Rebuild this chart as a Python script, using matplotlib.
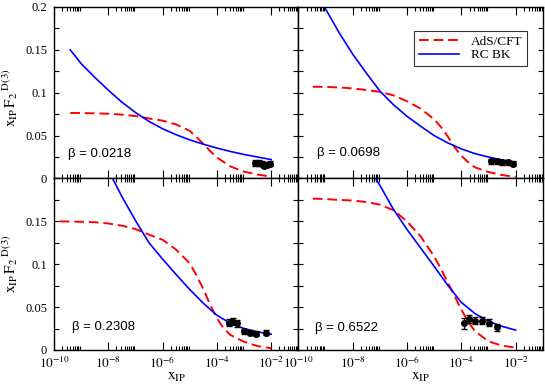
import numpy as np
import matplotlib
matplotlib.use("Agg")
import matplotlib.pyplot as plt
from matplotlib.ticker import FixedLocator, FixedFormatter

plt.rcParams['font.family'] = ['Liberation Serif', 'DejaVu Serif']
plt.rcParams['mathtext.fontset'] = 'stix'

betas = ["0.0218", "0.0698", "0.2308", "0.6522"]

# log10(x_IP) and x_IP F2^D(3)
ads_logx = [
    [-9.4, -9.0, -8.5, -8.0, -7.5, -7.0, -6.5, -6.0, -5.5, -5.0, -4.75, -4.5, -4.25, -4.0, -3.5, -3.0, -2.5, -2.0],
    [-9.47, -9.0, -8.5, -8.0, -7.5, -7.0, -6.5, -6.0, -5.5, -5.0, -4.75, -4.5, -4.25, -4.0, -3.75, -3.5, -3.0, -2.5, -2.0],
    [-9.79, -9.0, -8.5, -8.0, -7.5, -7.0, -6.5, -6.0, -5.5, -5.0, -4.75, -4.5, -4.25, -4.0, -3.75, -3.5, -3.0, -2.5, -2.0],
    [-9.47, -9.0, -8.5, -8.0, -7.5, -7.0, -6.5, -6.0, -5.5, -5.0, -4.75, -4.5, -4.25, -4.0, -3.75, -3.5, -3.0, -2.5, -2.0],
]
ads_val = [
    [0.0764, 0.0763, 0.0760, 0.0755, 0.0745, 0.0728, 0.0700, 0.0675, 0.063, 0.0555, 0.048, 0.0405, 0.032, 0.0245, 0.014, 0.008, 0.0045, 0.0023],
    [0.107, 0.1068, 0.1062, 0.105, 0.1032, 0.101, 0.097, 0.090, 0.0815, 0.069, 0.060, 0.049, 0.0365, 0.0265, 0.019, 0.013, 0.0075, 0.004, 0.0018],
    [0.150, 0.1495, 0.149, 0.1475, 0.145, 0.141, 0.1345, 0.1285, 0.117, 0.101, 0.087, 0.071, 0.053, 0.037, 0.025, 0.0175, 0.0095, 0.0045, 0.002],
    [0.1765, 0.176, 0.175, 0.1743, 0.1725, 0.1695, 0.163, 0.150, 0.1325, 0.109, 0.0945, 0.079, 0.063, 0.047, 0.033, 0.022, 0.010, 0.005, 0.0027],
]

bk_logx = [
    [-9.4, -9.0, -8.5, -8.0, -7.5, -7.0, -6.5, -6.0, -5.5, -5.0, -4.5, -4.0, -3.5, -3.0, -2.5, -2.0],
    [-9.04, -8.5, -8.0, -7.5, -7.0, -6.5, -6.0, -5.5, -5.0, -4.5, -4.0, -3.5, -3.0, -2.5, -2.0],
    [-7.84, -7.5, -7.0, -6.5, -6.0, -5.5, -5.0, -4.5, -4.0, -3.5, -3.0, -2.5, -2.0],
    [-7.16, -7.0, -6.5, -6.0, -5.5, -5.0, -4.5, -4.0, -3.5, -3.0, -2.5, -2.0],
]
bk_val = [
    [0.150, 0.134, 0.118, 0.103, 0.089, 0.077, 0.0665, 0.058, 0.051, 0.045, 0.040, 0.0355, 0.0315, 0.028, 0.025, 0.022],
    [0.200, 0.170, 0.145, 0.123, 0.102, 0.086, 0.0725, 0.061, 0.050, 0.0415, 0.0345, 0.029, 0.025, 0.0215, 0.019],
    [0.200, 0.179, 0.151, 0.125, 0.106, 0.088, 0.0705, 0.0545, 0.0405, 0.031, 0.0250, 0.021, 0.0185],
    [0.200, 0.192, 0.164, 0.1405, 0.119, 0.0975, 0.0755, 0.0555, 0.0425, 0.0335, 0.0275, 0.0232],
]

data_logx = [
    [-2.6, -2.45, -2.35, -2.25, -2.15, -2.05],
    [-2.9, -2.7, -2.5, -2.3, -2.1],
    [-3.55, -3.4, -3.25, -3.0, -2.8, -2.55, -2.2],
    [-3.9, -3.72, -3.5, -3.25, -3.0, -2.67],
]
data_val = [
    [0.018, 0.018, 0.017, 0.015, 0.016, 0.017],
    [0.020, 0.020, 0.019, 0.019, 0.017],
    [0.032, 0.033, 0.031, 0.022, 0.020, 0.019, 0.020],
    [0.031, 0.036, 0.034, 0.034, 0.032, 0.0265],
]
data_err = [
    [0.003, 0.003, 0.003, 0.003, 0.003, 0.003],
    [0.003, 0.003, 0.003, 0.003, 0.003],
    [0.004, 0.004, 0.004, 0.003, 0.003, 0.003, 0.003],
    [0.006, 0.005, 0.004, 0.004, 0.004, 0.004],
]

xmajor = [1e-10, 1e-8, 1e-6, 1e-4, 1e-2]
xlabels = [r'$10^{-10}$', r'$10^{-8}$', r'$10^{-6}$', r'$10^{-4}$', r'$10^{-2}$']
yticks = [0, 0.05, 0.1, 0.15, 0.2]
ylabels_top = ['0', '0.05', '0.1', '0.15', '0.2']
ylabels_bot = ['0', '0.05', '0.1', '0.15', '']

fig, axes = plt.subplots(2, 2, figsize=(5.45, 3.88), dpi=100)
fig.subplots_adjust(left=0.099, right=0.996, bottom=0.098, top=0.982, wspace=0, hspace=0)

beta_pos = [(0.057, 0.14), (0.078, 0.146), (0.073, 0.134), (0.066, 0.128)]
xminor = [k * 10.0**m for m in range(-10, -1, 2) for k in range(2, 10)]

for i, ax in enumerate(axes.flat):
    ax.plot(10.0**np.array(ads_logx[i]), ads_val[i], color='#ff0000', lw=1.4,
            dashes=(5, 2.5), label='AdS/CFT')
    ax.plot(10.0**np.array(bk_logx[i]), bk_val[i], color='#0000ff', lw=1.2, label='RC BK')
    ax.errorbar(10.0**np.array(data_logx[i]), data_val[i], yerr=data_err[i], fmt='o',
                color='black', ms=4, capsize=2.5, elinewidth=1, capthick=1)
    ax.set_xscale('log')
    ax.set_xlim(1e-10, 1e-1)
    ax.set_ylim(0, 0.2)
    ax.xaxis.set_major_locator(FixedLocator(xmajor))
    ax.xaxis.set_minor_locator(FixedLocator(xminor))
    ax.yaxis.set_major_locator(FixedLocator(yticks))
    ax.yaxis.set_minor_locator(FixedLocator([0.025, 0.075, 0.125, 0.175]))
    ax.tick_params(axis='both', which='both', direction='in', top=True, right=True, width=0.8)
    ax.tick_params(axis='x', which='major', length=6, labelsize=9.5, pad=4)
    ax.tick_params(axis='x', which='minor', length=3)
    ax.tick_params(axis='y', which='both', length=3.5, labelsize=9, pad=5)
    for s in ax.spines.values():
        s.set_linewidth(1.0)
    row, col = divmod(i, 2)
    if row == 1:
        ax.xaxis.set_major_formatter(FixedFormatter(xlabels))
        ax.set_xlabel(r'$\mathrm{x_{IP}}$', fontsize=11, labelpad=0)
    else:
        ax.set_xticklabels([])
    if col == 0:
        ax.yaxis.set_major_formatter(FixedFormatter(ylabels_top if row == 0 else ylabels_bot))
        ax.set_ylabel(r'$\mathrm{x_{IP}\,F_{2}\,{}^{D(3)}}$', fontsize=11)
        ax.yaxis.set_label_coords(-0.14, 0.47 if row == 0 else 0.5)
    else:
        ax.set_yticklabels([])
    ax.text(beta_pos[i][0], beta_pos[i][1], '\u03b2 = ' + betas[i], transform=ax.transAxes,
            fontsize=9.5, family=['Liberation Sans', 'DejaVu Sans'], va='center', ha='left')

leg = axes[0, 1].legend(loc='upper right', bbox_to_anchor=(0.934, 0.86), fontsize=9.5,
                        frameon=True, fancybox=False, edgecolor='black', handlelength=3.0,
                        borderpad=0.35, labelspacing=0.1, handletextpad=0.9, borderaxespad=0)
leg.get_frame().set_linewidth(0.8)

fig.savefig('out.png', dpi=100)
